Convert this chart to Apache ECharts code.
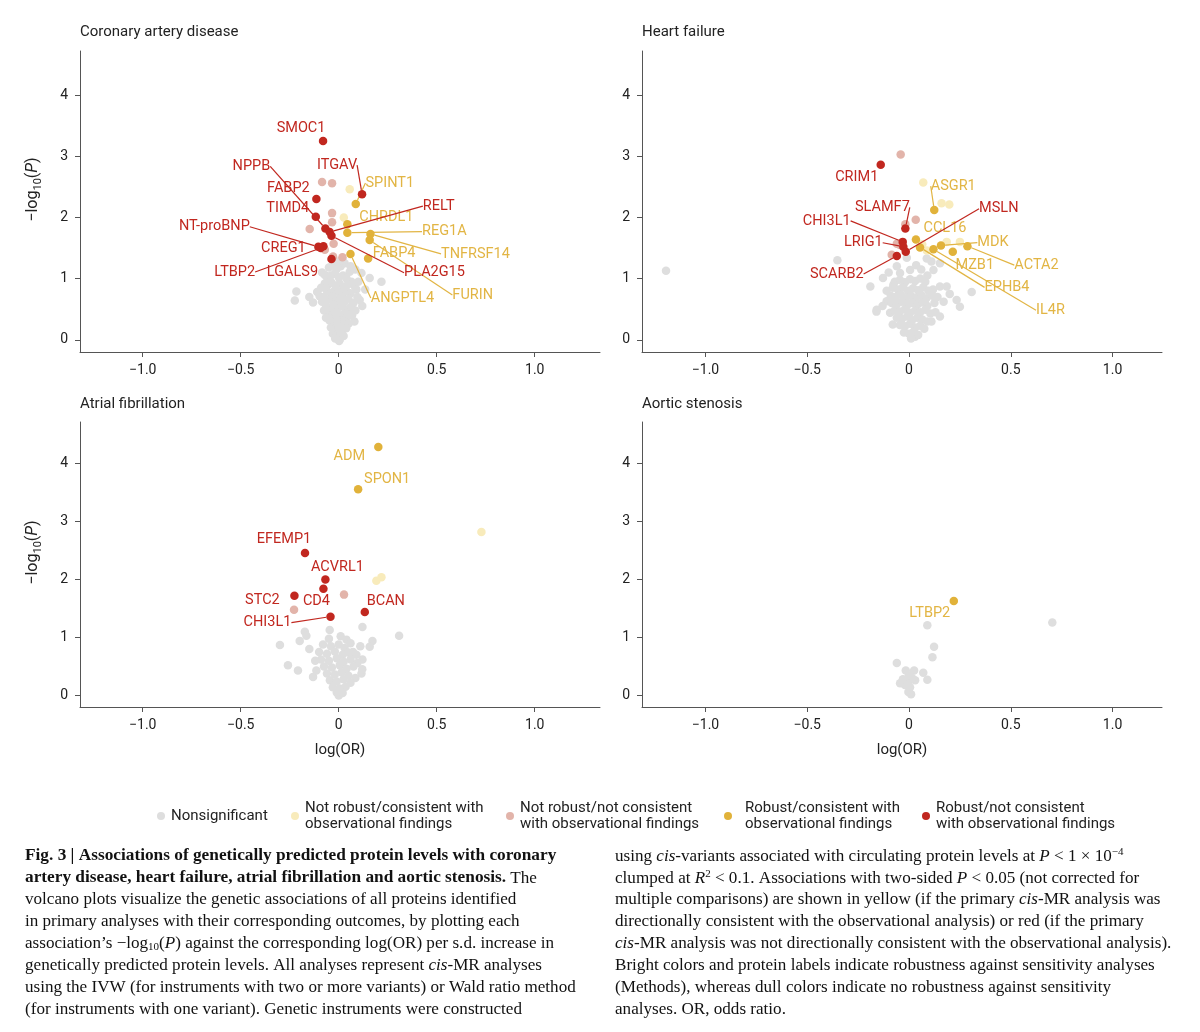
<!DOCTYPE html>
<html>
<head>
<meta charset="utf-8">
<script src="https://cdn.jsdelivr.net/npm/echarts/dist/echarts.min.js"></script>
<style>
  html, body { margin: 0; padding: 0; background: #ffffff; }
  #chart { width: 1200px; height: 1032px; }
</style>
</head>
<body>
<div id="chart"></div>
<script>
// ---------------- DATA ----------------
const categories = [
  'Nonsignificant',
  'Not robust/consistent with observational findings',
  'Not robust/not consistent with observational findings',
  'Robust/consistent with observational findings',
  'Robust/not consistent with observational findings'
];
const legendText = [
  'Nonsignificant',
  'Not robust/consistent with\nobservational findings',
  'Not robust/not consistent\nwith observational findings',
  'Robust/consistent with\nobservational findings',
  'Robust/not consistent\nwith observational findings'
];
const panelTitles = ['Coronary artery disease', 'Heart failure', 'Atrial fibrillation', 'Aortic stenosis'];
const xTicks = [-1.0, -0.5, 0, 0.5, 1.0];
const yTicks = [0, 1, 2, 3, 4];

// Coronary artery disease
const cadNonsig = [
  [-0.216,0.79],[-0.224,0.64],[-0.131,0.61],[-0.097,0.71],[-0.071,0.92],[-0.060,0.95],[-0.071,1.06],[0.056,1.11],
  [0.065,0.95],[0.116,1.09],[0.158,1.01],[0.218,0.95],[0.107,0.65],[0.056,0.46],[0.045,0.38],[0.005,0.00],
  [-0.050,1.18],[-0.032,1.22],[-0.012,1.15],[0.010,1.20],[0.030,1.25],[-0.040,1.05],[-0.020,1.08],[0.000,1.02],
  [0.022,1.05],[0.040,1.00],[-0.055,0.90],[-0.035,0.93],[-0.015,0.88],[0.005,0.92],[0.025,0.86],[0.045,0.90],
  [0.080,0.88],[-0.060,0.80],[-0.042,0.76],[-0.022,0.80],[-0.002,0.78],[0.018,0.74],[0.038,0.80],[0.060,0.76],
  [0.090,0.82],[-0.078,0.70],[-0.050,0.66],[-0.030,0.70],[-0.010,0.64],[0.010,0.68],[0.030,0.62],[0.050,0.67],
  [0.075,0.60],[-0.065,0.56],[-0.045,0.52],[-0.025,0.57],[-0.005,0.52],[0.015,0.55],[0.035,0.50],[0.062,0.54],
  [0.085,0.48],[-0.055,0.43],[-0.035,0.40],[-0.015,0.44],[0.005,0.40],[0.025,0.42],[0.040,0.36],[0.068,0.40],
  [-0.048,0.32],[-0.028,0.28],[-0.008,0.32],[0.012,0.28],[0.030,0.30],[0.050,0.26],[-0.040,0.20],[-0.020,0.18],
  [0.000,0.21],[0.020,0.16],[0.038,0.19],[-0.030,0.10],[-0.010,0.08],[0.010,0.11],[0.025,0.06],[-0.018,0.02],
  [0.002,-0.02],[-0.090,0.85],[-0.110,0.78],[-0.085,0.62],[-0.150,0.70],[0.095,0.70],[0.120,0.55],[0.135,0.82],
  [0.100,0.95],[-0.075,0.48],[0.080,0.30],[-0.065,0.36],[0.060,1.20],[-0.085,1.10],[0.085,1.15],[0.020,1.30],[-0.005,1.28]
];
const cadNotRobustCons = [[0.056,2.46],[0.026,2.00]];
const cadNotRobustIncons = [[-0.085,2.58],[-0.034,2.56],[-0.034,2.07],[-0.034,1.92],[-0.148,1.81],[-0.026,1.57],[-0.071,1.47],[-0.029,1.36],[0.019,1.35]];
const cadRobustCons = [
  ['SPINT1',0.087,2.22],['CHRDL1',0.044,1.89],['REG1A',0.044,1.75],['TNFRSF14',0.162,1.73],
  ['FURIN',0.158,1.63],['FABP4',0.150,1.33],['ANGPTL4',0.060,1.40]
];
const cadRobustIncons = [
  ['SMOC1',-0.080,3.25],['ITGAV',0.119,2.38],['FABP2',-0.114,2.30],['TIMD4',-0.117,2.01],['NPPB',-0.068,1.82],
  ['RELT',-0.046,1.76],['PLA2G15',-0.037,1.70],['NT-proBNP',-0.104,1.52],['CREG1',-0.078,1.53],['LTBP2',-0.092,1.50],
  ['LGALS9',-0.037,1.32]
];

// Heart failure
const hfNonsig = [
  [-1.194,1.13],[-0.352,1.30],[-0.190,0.87],[-0.160,0.46],[-0.128,1.01],[0.118,0.82],[0.185,0.87],[0.308,0.78],
  [-0.011,1.34],[0.110,1.28],[0.087,1.33],[0.152,1.25],[0.120,1.14],[-0.044,1.09],[-0.077,0.90],[0.005,1.14],
  [0.152,0.87],[0.234,0.65],[0.250,0.54],[-0.159,0.49],[-0.110,0.63],[-0.093,0.44],[0.152,0.38],[0.030,0.05],
  [-0.070,0.95],[-0.045,0.98],[-0.020,0.94],[0.005,0.99],[0.030,0.96],[0.055,1.00],[0.080,0.95],
  [-0.080,0.85],[-0.055,0.82],[-0.030,0.86],[-0.005,0.80],[0.020,0.84],[0.045,0.81],[0.070,0.86],[0.095,0.80],
  [-0.090,0.72],[-0.065,0.70],[-0.040,0.74],[-0.015,0.68],[0.010,0.72],[0.035,0.69],[0.060,0.73],[0.085,0.68],[0.115,0.72],
  [-0.085,0.60],[-0.060,0.58],[-0.035,0.62],[-0.010,0.56],[0.015,0.60],[0.040,0.57],[0.065,0.61],[0.090,0.55],[0.125,0.60],
  [-0.070,0.48],[-0.045,0.46],[-0.020,0.50],[0.005,0.44],[0.030,0.48],[0.055,0.45],[0.080,0.49],[0.105,0.43],
  [-0.060,0.36],[-0.035,0.34],[-0.010,0.38],[0.015,0.32],[0.040,0.36],[0.065,0.33],[0.090,0.30],
  [-0.045,0.24],[-0.020,0.22],[0.005,0.26],[0.030,0.20],[0.055,0.23],[0.075,0.18],
  [-0.025,0.12],[0.000,0.10],[0.022,0.13],[0.045,0.08],[0.010,0.02],
  [-0.100,1.10],[0.060,1.15],[0.035,1.22],[-0.060,1.20],[0.090,1.05],[-0.110,0.80],[0.140,0.70],[0.170,0.62],
  [0.200,0.75],[-0.130,0.55],[0.130,0.45],[0.110,0.30],[-0.080,0.25]
];
const hfNotRobustCons = [[0.070,2.57],[0.160,2.23],[0.198,2.21],[0.087,1.46],[0.185,1.60],[0.250,1.60],[0.065,1.56]];
const hfNotRobustIncons = [[-0.041,3.03],[-0.018,1.89],[0.033,1.96],[-0.085,1.39],[-0.060,1.57],[-0.045,1.55]];
const hfRobustCons = [
  ['ASGR1',0.124,2.12],['CCL16',0.034,1.64],['MDK',0.157,1.54],['ACTA2',0.287,1.53],
  ['MZB1',0.215,1.44],['EPHB4',0.054,1.51],['IL4R',0.120,1.48]
];
const hfRobustIncons = [
  ['CRIM1',-0.139,2.86],['SLAMF7',-0.018,1.82],['CHI3L1',-0.031,1.60],['LRIG1',-0.028,1.52],
  ['MSLN',-0.016,1.44],['SCARB2',-0.060,1.37]
];

// Atrial fibrillation
const afNonsig = [
  [-0.173,1.10],[-0.165,1.03],[-0.300,0.87],[-0.199,0.94],[-0.046,1.13],[0.121,1.18],[0.172,0.94],[0.158,0.84],
  [0.308,1.03],[-0.259,0.52],[-0.208,0.43],[-0.131,0.32],[0.121,0.62],[0.116,0.38],[0.073,0.75],[-0.114,0.43],
  [-0.050,0.98],[0.010,1.02],[0.040,0.96],[-0.080,0.88],[-0.040,0.85],[0.000,0.88],[0.030,0.82],[0.060,0.90],
  [-0.100,0.75],[-0.060,0.72],[-0.020,0.76],[0.020,0.70],[0.050,0.74],[0.090,0.70],
  [-0.090,0.62],[-0.050,0.60],[-0.010,0.64],[0.025,0.58],[0.060,0.62],[0.095,0.56],
  [-0.075,0.50],[-0.035,0.48],[0.005,0.52],[0.040,0.46],[0.075,0.50],
  [-0.060,0.38],[-0.020,0.36],[0.015,0.40],[0.050,0.34],[0.085,0.30],
  [-0.045,0.26],[-0.010,0.24],[0.025,0.28],[0.060,0.22],
  [-0.030,0.14],[0.005,0.12],[0.035,0.15],[-0.010,0.05],[0.000,0.00],[0.020,0.04],
  [0.110,0.85],[-0.120,0.60],[0.120,0.45],[-0.150,0.80]
];
const afNotRobustCons = [[0.728,2.82],[0.192,1.98],[0.218,2.04]];
const afNotRobustIncons = [[0.027,1.74],[-0.228,1.48]];
const afRobustCons = [['ADM',0.202,4.29],['SPON1',0.099,3.56]];
const afRobustIncons = [
  ['EFEMP1',-0.172,2.46],['ACVRL1',-0.068,2.00],['CD4',-0.078,1.84],['STC2',-0.226,1.72],
  ['BCAN',0.133,1.44],['CHI3L1',-0.042,1.36]
];

// Aortic stenosis
const asNonsig = [
  [0.704,1.26],[0.090,1.21],[0.123,0.84],[0.115,0.66],[-0.060,0.56],[-0.016,0.43],[0.025,0.43],[0.070,0.39],
  [0.090,0.27],[-0.044,0.21],[-0.003,0.24],[0.030,0.26],[0.005,0.14],[-0.003,0.06],[0.010,0.02],[-0.020,0.18],
  [0.015,0.30],[0.000,0.35],[-0.030,0.28]
];
const asNotRobustCons = [];
const asNotRobustIncons = [];
const asRobustCons = [['LTBP2',0.220,1.63]];
const asRobustIncons = [];

// ---------------- LAYOUT / STYLE (kept apart from data) ----------------
// label offsets in px relative to the point: [dx, dy, showLeaderLine]
const labelOffsets = {
  cad: {SMOC1:[-22,-13,0], ITGAV:[-25,-29,1], FABP2:[-28,-11,0], TIMD4:[-28,-8,0], NPPB:[-74,-62,1],
        RELT:[109,-26,1], PLA2G15:[103,37,1], 'NT-proBNP':[-104,-20,1], CREG1:[-40,2,0], LTBP2:[-86,24,1],
        LGALS9:[-39,13,0], SPINT1:[34,-21,1], CHRDL1:[39,-7,0], REG1A:[97,-1,1], TNFRSF14:[105,20,1],
        FABP4:[26,-5,0], ANGPTL4:[52,44,1], FURIN:[103,55,1]},
  hf: {CRIM1:[-24,13,0], SLAMF7:[-23,-21,1], CHI3L1:[-76,-21,1], LRIG1:[-40,-4,1], MSLN:[93,-43,1],
       SCARB2:[-60,18,1], ASGR1:[19,-24,1], CCL16:[29,-11,0], MDK:[52,-3,1], ACTA2:[69,19,1],
       MZB1:[22,14,0], EPHB4:[87,40,1], IL4R:[117,61,1]},
  af: {ADM:[-29,9,0], SPON1:[29,-10,0], EFEMP1:[-21,-14,0], ACVRL1:[12,-12,0], CD4:[-7,13,0],
       STC2:[-32,5,0], BCAN:[21,-11,0], CHI3L1:[-63,6,1]},
  as: {LTBP2:[-24,12,0]}
};

const dotColors = ['#dedede', '#f8ebbb', '#e2b4aa', '#e1b23a', '#c1271f'];
const labelColors = {3: '#e2b544', 4: '#c1271f'};
const FONT = 'Roboto';

const panels = [
  {key:'cad', sets:[cadNonsig, cadNotRobustCons, cadNotRobustIncons, cadRobustCons, cadRobustIncons]},
  {key:'hf',  sets:[hfNonsig, hfNotRobustCons, hfNotRobustIncons, hfRobustCons, hfRobustIncons]},
  {key:'af',  sets:[afNonsig, afNotRobustCons, afNotRobustIncons, afRobustCons, afRobustIncons]},
  {key:'as',  sets:[asNonsig, asNotRobustCons, asNotRobustIncons, asRobustCons, asRobustIncons]}
];

const grids = [
  {left:80,  top:51,  width:520, height:301},
  {left:642, top:51,  width:520, height:301},
  {left:80,  top:422, width:520, height:285},
  {left:642, top:422, width:520, height:285}
];
const xRanges = [[-1.32,1.333],[-1.312,1.243],[-1.32,1.333],[-1.312,1.243]];

const axisColor = '#555';
const fmtX = v => (v === 0 ? '0' : (v < 0 ? '\u2212' : '') + Math.abs(v).toFixed(1));

const xAxes = grids.map((g, i) => ({
  type:'value', gridIndex:i, min:xRanges[i][0], max:xRanges[i][1],
  axisLine:{show:true, onZero:false, lineStyle:{color:axisColor, width:1}},
  axisTick:{show:true, inside:false, length:5, customValues:xTicks, lineStyle:{color:axisColor}},
  axisLabel:{show:true, customValues:xTicks, formatter:fmtX, color:'#222', fontSize:14, margin:11, fontFamily:FONT},
  splitLine:{show:false},
  name: i >= 2 ? 'log(OR)' : '', nameLocation:'middle', nameGap:36,
  nameTextStyle:{color:'#222', fontSize:15, fontFamily:FONT}
}));
const yAxes = grids.map((g, i) => ({
  type:'value', gridIndex:i, min:-0.2, max:4.72,
  axisLine:{show:true, onZero:false, lineStyle:{color:axisColor, width:1}},
  axisTick:{show:true, inside:false, length:5, customValues:yTicks, lineStyle:{color:axisColor}},
  axisLabel:{show:true, customValues:yTicks, color:'#222', fontSize:14, margin:12, fontFamily:FONT},
  splitLine:{show:false},
  name: (i % 2 === 0) ? '{t|\u2212log}{s|10}{t|(}{i|P}{t|)}' : '',
  nameLocation:'middle', nameRotate:90, nameGap:36,
  nameTextStyle:{
    color:'#222', fontSize:16, fontFamily:FONT, padding:[0,0,0,24],
    rich:{
      t:{fontSize:16, color:'#222', fontFamily:FONT, lineHeight:22},
      i:{fontSize:16, color:'#222', fontFamily:FONT, fontStyle:'italic', lineHeight:22},
      s:{fontSize:11, color:'#222', fontFamily:FONT, verticalAlign:'bottom', lineHeight:22}
    }
  }
}));

const series = [];
panels.forEach((p, pi) => {
  p.sets.forEach((set, ci) => {
    const labelled = ci >= 3;
    const offs = labelOffsets[p.key];
    const data = set.map(d => {
      if (!labelled) return {value:[d[0], d[1]]};
      const o = offs[d[0]] || [0,-12,0];
      return {name:d[0], value:[d[1], d[2]], labelLine:{show: !!o[2]}};
    });
    const s = {
      type:'scatter', name:categories[ci], xAxisIndex:pi, yAxisIndex:pi,
      symbol:'circle', symbolSize:8.5, data:data, z: 2 + ci,
      itemStyle:{color:dotColors[ci], opacity:1},
      emphasis:{disabled:true}, silent:true
    };
    if (labelled) {
      s.label = {show:true, position:'inside', formatter:'{b}', color:labelColors[ci],
                 fontSize:14.5, fontFamily:FONT};
      s.labelLine = {show:true, lineStyle:{color:labelColors[ci], width:1.2}};
      s.labelLayout = function (params) {
        const o = offs[params.text] || [0,-12,0];
        return {dx:o[0], dy:o[1]};
      };
    }
    series.push(s);
  });
});

// legends: one per category, positioned like the reference
const legendLefts = [157, 291, 506, 724, 922];
const legends = categories.map((c, i) => ({
  data:[c], left:legendLefts[i], top: i === 0 ? 808 : 800,
  orient:'horizontal', icon:'circle', itemWidth:8, itemHeight:8, itemGap:0,
  selectedMode:false, padding:0,
  formatter: () => legendText[i],
  textStyle:{color:'#222', fontSize:15, fontFamily:FONT, lineHeight:16,
             padding: i === 3 ? [0,0,0,8] : [0,0,0,1]}
}));

// caption
const capFont = 'Liberation Serif';
const capBold = 17.3;
const capSize = 17.1;
const capRich = {
  b:{fontFamily:capFont, fontSize:capBold, fontWeight:'bold', fill:'#111', lineHeight:20},
  r:{fontFamily:capFont, fontSize:capSize, fill:'#111', lineHeight:20},
  i:{fontFamily:capFont, fontSize:capSize, fontStyle:'italic', fill:'#111', lineHeight:20},
  sub:{fontFamily:capFont, fontSize:11, fill:'#111', verticalAlign:'bottom', lineHeight:20, padding:[0,0,0,0]},
  sup:{fontFamily:capFont, fontSize:11, fill:'#111', verticalAlign:'top', lineHeight:20, padding:[1,0,0,0]}
};
const captionLeft = [
  '{b|Fig. 3 | Associations of genetically predicted protein levels with coronary}',
  '{b|artery disease, heart failure, atrial fibrillation and aortic stenosis.}{r| The}',
  '{r|volcano plots visualize the genetic associations of all proteins identified}',
  '{r|in primary analyses with their corresponding outcomes, by plotting each}',
  '{r|association\u2019s \u2212log}{sub|10}{r|(}{i|P}{r|) against the corresponding log(OR) per s.d. increase in}',
  '{r|genetically predicted protein levels. All analyses represent }{i|cis}{r|-MR analyses}',
  '{r|using the IVW (for instruments with two or more variants) or Wald ratio method}',
  '{r|(for instruments with one variant). Genetic instruments were constructed}'
];
const captionRight = [
  '{r|using }{i|cis}{r|-variants associated with circulating protein levels at }{i|P}{r| < 1 \u00d7 10}{sup|\u22124}',
  '{r|clumped at }{i|R}{sup|2}{r| < 0.1. Associations with two-sided }{i|P}{r| < 0.05 (not corrected for}',
  '{r|multiple comparisons) are shown in yellow (if the primary }{i|cis}{r|-MR analysis was}',
  '{r|directionally consistent with the observational analysis) or red (if the primary}',
  '{i|cis}{r|-MR analysis was not directionally consistent with the observational analysis).}',
  '{r|Bright colors and protein labels indicate robustness against sensitivity analyses}',
  '{r|(Methods), whereas dull colors indicate no robustness against sensitivity}',
  '{r|analyses. OR, odds ratio.}'
];
const lineYs = [856, 878, 899, 921, 943, 965, 987, 1009];
const graphics = [];
captionLeft.forEach((t, k) => graphics.push({type:'text', x:25, y:lineYs[k] - 10,
  style:{text:t, rich:capRich, fill:'#111', font: capSize + 'px ' + capFont, verticalAlign:'top'}}));
captionRight.forEach((t, k) => graphics.push({type:'text', x:615, y:lineYs[k] - 10,
  style:{text:t, rich:capRich, fill:'#111', font: capSize + 'px ' + capFont, verticalAlign:'top'}}));

const titles = panelTitles.map((t, i) => ({
  text:t, left:grids[i].left, top: i < 2 ? 25 : 397, padding:0,
  textStyle:{fontSize:15, fontWeight:'normal', color:'#222', fontFamily:FONT}
}));

const chart = echarts.init(document.getElementById('chart'), null, {renderer:'canvas'});
chart.setOption({
  backgroundColor:'#ffffff',
  animation:false,
  textStyle:{fontFamily:FONT},
  title:titles,
  grid:grids,
  xAxis:xAxes,
  yAxis:yAxes,
  legend:legends,
  series:series,
  graphic:graphics
});
</script>
</body>
</html>
